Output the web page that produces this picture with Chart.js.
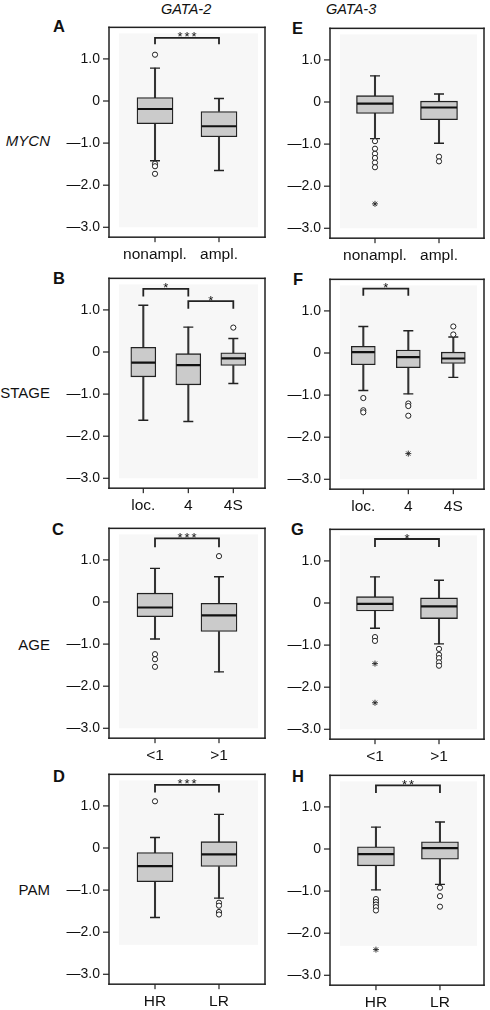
<!DOCTYPE html>
<html>
<head>
<meta charset="utf-8">
<script src="https://cdn.jsdelivr.net/npm/chart.js@4/dist/chart.umd.min.js"></script>
<style>
  html, body { margin: 0; padding: 0; background: #fff; }
  body { width: 490px; height: 1010px; position: relative; overflow: hidden;
         font-family: 'Liberation Sans', Arial, Helvetica, sans-serif; color: #111; }
  canvas { position: absolute; }
  .lbl { position: absolute; white-space: nowrap; line-height: 1; }
  .head { font-style: italic; font-size: 14.5px; }
  .letter { font-weight: bold; font-size: 16.5px; }
  .row { font-size: 15px; text-align: right; }
</style>
</head>
<body>

<div class="lbl head" style="left:161px; top:2px;">GATA-2</div>
<div class="lbl head" style="left:326px; top:2px;">GATA-3</div>

<div class="lbl letter" style="left:53px; top:18px;">A</div>
<div class="lbl letter" style="left:53px; top:270px;">B</div>
<div class="lbl letter" style="left:52px; top:521px;">C</div>
<div class="lbl letter" style="left:53px; top:768px;">D</div>
<div class="lbl letter" style="left:292px; top:20px;">E</div>
<div class="lbl letter" style="left:293px; top:271px;">F</div>
<div class="lbl letter" style="left:291px; top:521px;">G</div>
<div class="lbl letter" style="left:292px; top:768px;">H</div>

<div class="lbl row" style="right:440px; top:133px; font-style:italic;">MYCN</div>
<div class="lbl row" style="right:440px; top:385px;">STAGE</div>
<div class="lbl row" style="right:440px; top:637px;">AGE</div>
<div class="lbl row" style="right:440px; top:882px;">PAM</div>

<script>
// ---------------- DATA ----------------
const catsMYCN  = ['nonampl.', 'ampl.'];
const catsSTAGE = ['loc.', '4', '4S'];
const catsAGE   = ['<1', '>1'];
const catsPAM   = ['HR', 'LR'];
const yTicks = [-3, -2, -1, 0, 1];

// A: GATA-2 vs MYCN
const A_q1 = [-0.54, -0.85];
const A_median = [-0.19, -0.60];
const A_q3 = [0.08, -0.25];
const A_low = [-1.42, -1.65];
const A_high = [0.78, 0.06];
const A_outliers = [[0, 1.10], [0, -1.49], [0, -1.55], [0, -1.73]];
const A_extremes = [];
const A_sig = [[0, 1, 1.35, 1.50, '***']];

// B: GATA-2 vs STAGE
const B_q1 = [-0.59, -0.78, -0.32];
const B_median = [-0.25, -0.31, -0.15];
const B_q3 = [0.11, -0.04, -0.02];
const B_low = [-1.62, -1.65, -0.75];
const B_high = [1.11, 0.59, 0.32];
const B_outliers = [[2, 0.58]];
const B_extremes = [];
const B_sig = [[0, 1, 1.32, 1.50, '*'], [1, 2, 1.03, 1.21, '*']];

// C: GATA-2 vs AGE
const C_q1 = [-0.35, -0.70];
const C_median = [-0.13, -0.32];
const C_q3 = [0.21, -0.03];
const C_low = [-0.88, -1.66];
const C_high = [0.80, 0.60];
const C_outliers = [[0, -1.24], [0, -1.36], [0, -1.54], [1, 1.09]];
const C_extremes = [];
const C_sig = [[0, 1, 1.30, 1.51, '***']];

// D: GATA-2 vs PAM
const D_q1 = [-0.80, -0.44];
const D_median = [-0.43, -0.15];
const D_q3 = [-0.11, 0.15];
const D_low = [-1.65, -1.19];
const D_high = [0.25, 0.80];
const D_outliers = [[0, 1.11], [1, -1.30], [1, -1.37], [1, -1.52], [1, -1.58]];
const D_extremes = [];
const D_sig = [[0, 1, 1.32, 1.50, '***']];

// E: GATA-3 vs MYCN
const E_q1 = [-0.27, -0.42];
const E_median = [-0.04, -0.13];
const E_q3 = [0.15, 0.02];
const E_low = [-0.87, -0.98];
const E_high = [0.62, 0.19];
const E_outliers = [[0, -0.93], [0, -1.11], [0, -1.23], [0, -1.33], [0, -1.44], [0, -1.55], [1, -1.30], [1, -1.41]];
const E_extremes = [[0, -2.42]];
const E_sig = [];

// F: GATA-3 vs STAGE
const F_q1 = [-0.28, -0.35, -0.25];
const F_median = [0.02, -0.10, -0.13];
const F_q3 = [0.16, 0.07, 0.02];
const F_low = [-0.89, -0.97, -0.58];
const F_high = [0.63, 0.53, 0.38];
const F_outliers = [[0, -1.07], [0, -1.36], [0, -1.41], [1, -1.20], [1, -1.26], [1, -1.49], [2, 0.63], [2, 0.44]];
const F_extremes = [[1, -2.39]];
const F_sig = [[0, 1, 1.36, 1.53, '*']];

// G: GATA-3 vs AGE
const G_q1 = [-0.19, -0.37];
const G_median = [-0.02, -0.08];
const G_q3 = [0.15, 0.12];
const G_low = [-0.60, -0.97];
const G_high = [0.62, 0.54];
const G_outliers = [[0, -0.81], [0, -0.90], [1, -1.09], [1, -1.23], [1, -1.31], [1, -1.41], [1, -1.49]];
const G_extremes = [[0, -1.44], [0, -2.37]];
const G_sig = [[0, 1, 1.33, 1.52, '*']];

// H: GATA-3 vs PAM
const H_q1 = [-0.40, -0.24];
const H_median = [-0.12, 0.02];
const H_q3 = [0.05, 0.17];
const H_low = [-0.97, -0.84];
const H_high = [0.52, 0.64];
const H_outliers = [[0, -1.19], [0, -1.26], [0, -1.32], [0, -1.38], [0, -1.46], [1, -0.92], [1, -1.12], [1, -1.37]];
const H_extremes = [[0, -2.39]];
const H_sig = [[0, 1, 1.33, 1.51, '**']];

// ---------------- LAYOUT (positions / styles only) ----------------
const FONT = "'Liberation Sans', Arial, Helvetica, sans-serif";
const Y_MIN = -3.235, Y_MAX = 1.75, PLOT_H = 216;      // frame value range and height
const AX_W = 75, PAD = 6, X_AX_H = 32;
const M_L = 7, M_B = 6, M_T = 2, M_R = 2;              // chart area margin around the frame
const INK = '#222222';
const geo = {
  A: { left: 109, top: 21,  w: 156, xr: [-0.719, 1.719], boxW: 36, bgBottom: -3.0 },
  B: { left: 109, top: 272, w: 156, xr: [-0.762, 2.704], boxW: 25, bgBottom: -3.0 },
  C: { left: 109, top: 522, w: 156, xr: [-0.719, 1.719], boxW: 36, bgBottom: -3.0 },
  D: { left: 109, top: 768, w: 156, xr: [-0.719, 1.719], boxW: 36, bgBottom: -2.3 },
  E: { left: 330, top: 22,  w: 154, xr: [-0.703, 1.703], boxW: 37, bgBottom: -3.0 },
  F: { left: 330, top: 273, w: 154, xr: [-0.740, 2.682], boxW: 24, bgBottom: -3.0 },
  G: { left: 330, top: 523, w: 154, xr: [-0.703, 1.703], boxW: 37, bgBottom: -3.0 },
  H: { left: 330, top: 769, w: 154, xr: [-0.718, 1.688], boxW: 37, bgBottom: -2.3 }
};

const panels = [
  ['A', catsMYCN,  A_q1, A_median, A_q3, A_low, A_high, A_outliers, A_extremes, A_sig],
  ['B', catsSTAGE, B_q1, B_median, B_q3, B_low, B_high, B_outliers, B_extremes, B_sig],
  ['C', catsAGE,   C_q1, C_median, C_q3, C_low, C_high, C_outliers, C_extremes, C_sig],
  ['D', catsPAM,   D_q1, D_median, D_q3, D_low, D_high, D_outliers, D_extremes, D_sig],
  ['E', catsMYCN,  E_q1, E_median, E_q3, E_low, E_high, E_outliers, E_extremes, E_sig],
  ['F', catsSTAGE, F_q1, F_median, F_q3, F_low, F_high, F_outliers, F_extremes, F_sig],
  ['G', catsAGE,   G_q1, G_median, G_q3, G_low, G_high, G_outliers, G_extremes, G_sig],
  ['H', catsPAM,   H_q1, H_median, H_q3, H_low, H_high, H_outliers, H_extremes, H_sig]
];

function fmtY(v) {
  if (v === 0) return '0';
  return (v < 0 ? '\u2014' : '') + Math.abs(v).toFixed(1);
}

function decoPlugin(g, sig, idx) {
  const frame = (chart) => {
    const { x, y } = chart.scales;
    return { l: x.getPixelForValue(g.xr[0]), r: x.getPixelForValue(g.xr[1]),
             t: y.getPixelForValue(Y_MAX), b: y.getPixelForValue(Y_MIN) };
  };
  return {
    id: 'deco',
    beforeDatasetsDraw(chart) {
      const { ctx, scales } = chart;
      const f = frame(chart);
      const yb = scales.y.getPixelForValue(g.bgBottom);
      ctx.save();
      ctx.fillStyle = '#f7f7f7';
      ctx.fillRect(f.l + 10, f.t + 6, (f.r - 7) - (f.l + 10), yb - (f.t + 6));
      ctx.restore();
    },
    afterDatasetsDraw(chart) {
      const { ctx, scales } = chart;
      const f = frame(chart);
      const bw = 1.5, hw = bw / 2;
      ctx.save();
      ctx.fillStyle = INK;
      ctx.fillRect(f.l - hw, f.t - hw, f.r - f.l + bw, bw);
      ctx.fillRect(f.l - hw, f.b - hw, f.r - f.l + bw, bw);
      ctx.fillRect(f.l - hw, f.t - hw, bw, f.b - f.t + bw);
      ctx.fillRect(f.r - hw, f.t - hw, bw, f.b - f.t + bw);
      yTicks.forEach(v => {
        const py = scales.y.getPixelForValue(v);
        ctx.fillRect(f.l - 6, py - 0.6, 6, 1.2);
      });
      idx.forEach(i => {
        const px = scales.x.getPixelForValue(i);
        ctx.fillRect(px - 0.6, f.b, 1.2, 5);
      });
      ctx.fillStyle = '#111';
      ctx.font = '13px ' + FONT;
      ctx.textAlign = 'center';
      ctx.textBaseline = 'alphabetic';
      sig.forEach(s => {
        const xm = scales.x.getPixelForValue((s[0] + s[1]) / 2);
        const yy = scales.y.getPixelForValue(s[3]);
        const n = s[4].length;
        for (let k = 0; k < n; k++) {
          ctx.fillText('*', xm + (k - (n - 1) / 2) * 7, yy + 3.5);
        }
      });
      ctx.restore();
    }
  };
}

function build(p) {
  const [key, cats, q1, med, q3, lo, hi, outs, exts, sig] = p;
  const g = geo[key];
  const idx = cats.map((_, i) => i);
  const ppu = g.w / (g.xr[1] - g.xr[0]);
  const ypu = PLOT_H / (Y_MAX - Y_MIN);
  const ds = [
    { type: 'bar', data: idx.map(i => ({ x: i, y: [lo[i], q1[i]] })), backgroundColor: '#333',
      borderWidth: 0, barThickness: 1.4, grouped: false, order: 6 },
    { type: 'bar', data: idx.map(i => ({ x: i, y: [q3[i], hi[i]] })), backgroundColor: '#333',
      borderWidth: 0, barThickness: 1.4, grouped: false, order: 6 },
    { type: 'bar', data: idx.map(i => ({ x: i, y: [q1[i], q3[i]] })), backgroundColor: '#cbcbcb',
      borderColor: INK, borderWidth: 1.3, borderSkipped: false, barThickness: g.boxW, grouped: false, order: 5 },
    { type: 'line', data: idx.map(i => ({ x: i, y: med[i] })), showLine: false, pointStyle: 'line',
      pointRadius: g.boxW / 2 - 0.5, borderColor: '#111', pointBorderColor: '#111', pointBorderWidth: 2.2, order: 1 },
    { type: 'line', data: idx.map(i => ({ x: i, y: hi[i] })), showLine: false, pointStyle: 'line',
      pointRadius: 5, borderColor: INK, pointBorderColor: INK, pointBorderWidth: 1.4, order: 2 },
    { type: 'line', data: idx.map(i => ({ x: i, y: lo[i] })), showLine: false, pointStyle: 'line',
      pointRadius: 5, borderColor: INK, pointBorderColor: INK, pointBorderWidth: 1.4, order: 2 },
    { type: 'line', data: outs.map(o => ({ x: o[0], y: o[1] })), showLine: false, pointStyle: 'circle',
      pointRadius: 2.6, borderColor: INK, pointBorderColor: INK, pointBackgroundColor: '#fff',
      backgroundColor: '#fff', pointBorderWidth: 1, order: 0 },
    { type: 'line', data: exts.map(o => ({ x: o[0], y: o[1] })), showLine: false, pointStyle: 'star',
      pointRadius: 3, borderColor: INK, pointBorderColor: INK, pointBorderWidth: 0.9, order: 0 }
  ];
  sig.forEach(s => {
    ds.push({ type: 'line', data: [{ x: s[0], y: s[2] }, { x: s[0], y: s[3] }, { x: s[1], y: s[3] }, { x: s[1], y: s[2] }],
      showLine: true, borderColor: INK, borderWidth: 1.8, pointRadius: 0, fill: false, tension: 0,
      borderJoinStyle: 'miter', borderCapStyle: 'butt', order: 0 });
  });

  const cv = document.createElement('canvas');
  const W = AX_W + g.w + PAD, Hh = PAD + PLOT_H + X_AX_H;
  cv.width = W; cv.height = Hh;
  cv.style.left = (g.left - AX_W) + 'px';
  cv.style.top = (g.top - PAD) + 'px';
  cv.style.width = W + 'px'; cv.style.height = Hh + 'px';
  document.body.appendChild(cv);

  new Chart(cv.getContext('2d'), {
    type: 'bar',
    data: { datasets: ds },
    options: {
      responsive: false, animation: false, devicePixelRatio: 1, events: [],
      layout: { autoPadding: false, padding: { top: PAD - M_T, right: PAD - M_R, left: 0, bottom: 0 } },
      plugins: { legend: { display: false }, tooltip: { enabled: false } },
      scales: {
        x: {
          type: 'linear', min: g.xr[0] - M_L / ppu, max: g.xr[1] + M_R / ppu, offset: false,
          grid: { display: false, drawTicks: false, offset: false },
          border: { display: false },
          afterBuildTicks: s => { s.ticks = idx.map(i => ({ value: i })); },
          afterFit: s => { s.height = X_AX_H - M_B; },
          ticks: { autoSkip: false, maxRotation: 0, minRotation: 0, padding: 2, color: '#111',
            font: { family: FONT, size: 15.5 }, callback: v => cats[Math.round(v)] }
        },
        y: {
          type: 'linear', min: Y_MIN - M_B / ypu, max: Y_MAX + M_T / ypu,
          grid: { display: false, drawTicks: false },
          border: { display: false },
          afterBuildTicks: s => { s.ticks = yTicks.map(v => ({ value: v })); },
          afterFit: s => { s.width = AX_W - M_L; },
          ticks: { padding: 2, color: '#111', font: { family: FONT, size: 14 }, callback: v => fmtY(v) }
        }
      }
    },
    plugins: [decoPlugin(g, sig, idx)]
  });
}

panels.forEach(build);
</script>
</body>
</html>
